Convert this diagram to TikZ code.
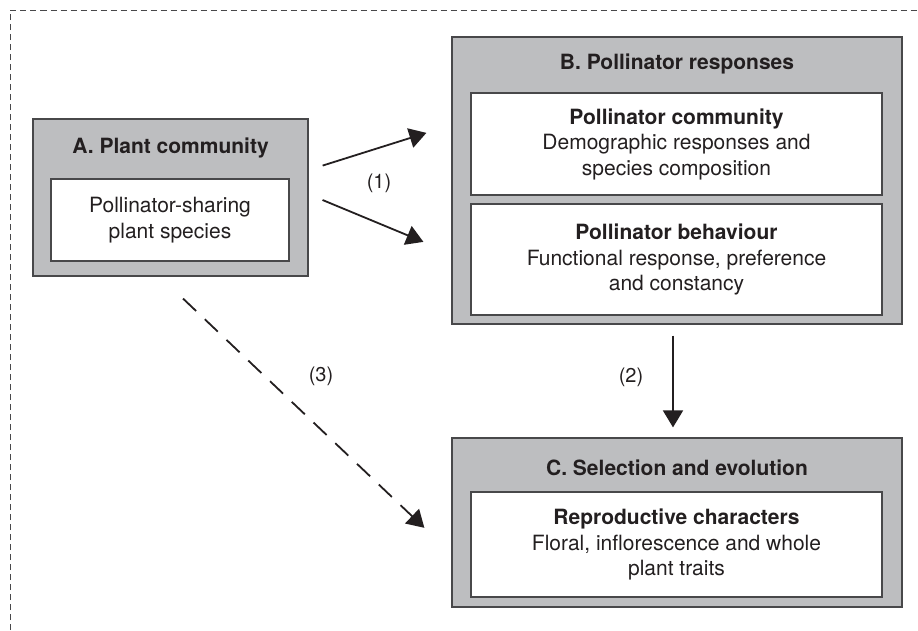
\documentclass[tikz,border=0pt]{standalone}
\usepackage{fontspec}
\setmainfont{TeX Gyre Heros}
\usetikzlibrary{arrows.meta}
\definecolor{panelgray}{RGB}{189,190,192}
\definecolor{edgegray}{RGB}{72,72,74}
\definecolor{inkdark}{RGB}{35,31,32}
\begin{document}
\begin{tikzpicture}[x=1pt, y=-1pt,
      panel/.style={draw=edgegray, line width=1.2pt, fill=panelgray, inner sep=0pt},
      cell/.style={draw=edgegray, line width=1.2pt, fill=white, align=center,
                   inner sep=0pt, text=inkdark, font=\fontsize{21pt}{25.5pt}\selectfont},
      head/.style={font=\fontsize{21pt}{25.5pt}\selectfont\bfseries, text=inkdark},
      num/.style={font=\fontsize{20pt}{24pt}\selectfont, text=inkdark},
      link/.style={line width=1.8pt, draw=inkdark, -{Triangle[length=17pt, width=20pt]}}
    ]
    \useasboundingbox (0,0) rectangle (918,630);

    % Frame
    \draw[edgegray, line width=0.8pt, dash pattern=on 6pt off 4pt]
      (10,630) -- (10,10.5) -- (918,10.5);

    % Panel A: plant community
    \node[panel, minimum width=275pt, minimum height=157pt] (A) at (170.5,197.5) {};
    \node[head] (Ahead) at (170.5,148) {A. Plant community};
    \node[cell, minimum width=238pt, minimum height=82pt] (Acell) at (170,220)
      {Pollinator-sharing\\plant species};

    % Panel B: pollinator responses
    \node[panel, minimum width=450pt, minimum height=287pt] (B) at (677,180.5) {};
    \node[head] (Bhead) at (677,64) {B. Pollinator responses};
    \node[cell, minimum width=411pt, minimum height=102pt] (Bcomm) at (676.5,144)
      {\textbf{Pollinator community}\\Demographic responses and\\species composition};
    \node[cell, minimum width=411pt, minimum height=111pt] (Bbeh) at (676.5,259.5)
      {\textbf{Pollinator behaviour}\\Functional response, preference\\and constancy};

    % Panel C: selection and evolution
    \node[panel, minimum width=450pt, minimum height=169pt] (C) at (677,522.5) {};
    \node[head] (Chead) at (677,468) {C. Selection and evolution};
    \node[cell, minimum width=411pt, minimum height=105pt] (Ccell) at (676.5,544.5)
      {\textbf{Reproductive characters}\\Floral, inflorescence and whole\\plant traits};

    % Links
    \draw[link, shorten <=14.7pt, shorten >=26.2pt]
      ([yshift=27.5pt]A.east) -- ([yshift=55.5pt]B.west);
    \draw[link, shorten <=15.1pt, shorten >=30.3pt]
      ([yshift=3.3pt]A.east) -- ([yshift=-73pt]B.west);
    \draw[link, shorten <=11pt, shorten >=10pt]
      ([xshift=-4pt]B.south) -- ([xshift=-4pt]C.north);
    \draw[link, dash pattern=on 18pt off 12pt, shorten <=31.9pt, shorten >=37.3pt]
      ([xshift=-10.6pt]A.south) -- ([yshift=-31pt]C.west);

    \node[num] (n1) at (379,183) {(1)};
    \node[num] (n2) at (631,377) {(2)};
    \node[num] (n3) at (321,376) {(3)};
  \end{tikzpicture}
\end{document}
